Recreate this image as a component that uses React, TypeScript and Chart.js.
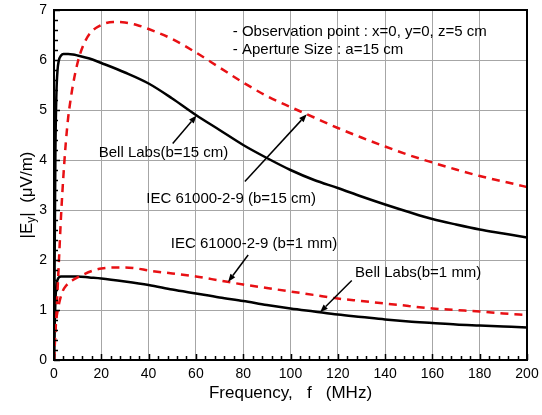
import { useEffect, useRef } from "react";
import { Chart, registerables } from "chart.js";

Chart.register(...registerables);

const FONT = '"Liberation Sans", Arial, Helvetica, sans-serif';

// Axis ticks
const xTickValues = [0, 20, 40, 60, 80, 100, 120, 140, 160, 180, 200];
const yTickValues = [0, 1, 2, 3, 4, 5, 6, 7];

// Bell Labs, b = 15 cm
const bell15Freq = [0, 0.3, 0.6, 1, 1.5, 2, 3, 4, 6, 8, 10, 15, 20, 30, 40, 50, 60, 70, 80, 90, 100, 110, 120, 130, 140, 150, 160, 170, 180, 190, 200];
const bell15Val = [0, 2.2, 4.2, 5.3, 5.8, 5.98, 6.09, 6.12, 6.12, 6.11, 6.09, 6.03, 5.94, 5.75, 5.53, 5.23, 4.9, 4.6, 4.3, 4.04, 3.8, 3.6, 3.44, 3.27, 3.11, 2.96, 2.82, 2.71, 2.61, 2.53, 2.45];

// IEC 61000-2-9, b = 15 cm
const iec15Freq = [0, 1, 2, 3, 4, 5, 6, 7, 8, 10, 12, 15, 20, 25, 30, 35, 40, 50, 60, 70, 80, 90, 100, 110, 120, 130, 140, 150, 160, 170, 180, 190, 200];
const iec15Val = [0, 0.9, 1.9, 2.9, 3.7, 4.35, 4.85, 5.2, 5.5, 5.95, 6.25, 6.52, 6.7, 6.76, 6.75, 6.7, 6.62, 6.42, 6.15, 5.85, 5.55, 5.28, 5.06, 4.85, 4.64, 4.45, 4.27, 4.1, 3.95, 3.81, 3.68, 3.57, 3.46];

// Bell Labs, b = 1 mm
const bell1Freq = [0, 0.3, 0.6, 1, 1.5, 2, 3, 5, 10, 15, 20, 30, 40, 50, 60, 70, 80, 90, 100, 110, 120, 130, 140, 150, 160, 170, 180, 190, 200];
const bell1Val = [0, 0.7, 1.2, 1.48, 1.6, 1.65, 1.67, 1.67, 1.67, 1.65, 1.63, 1.57, 1.5, 1.41, 1.33, 1.25, 1.18, 1.1, 1.03, 0.97, 0.91, 0.86, 0.81, 0.77, 0.74, 0.71, 0.69, 0.67, 0.65];

// IEC 61000-2-9, b = 1 mm
const iec1Freq = [0, 0.2, 0.5, 1, 1.6, 2.5, 3.7, 5, 8, 12, 16, 20, 25, 30, 35, 40, 50, 60, 70, 80, 90, 100, 110, 120, 130, 140, 150, 160, 170, 180, 190, 200];
const iec1Val = [0, 0.4, 0.62, 0.83, 1.0, 1.2, 1.38, 1.48, 1.6, 1.7, 1.78, 1.83, 1.85, 1.85, 1.83, 1.79, 1.73, 1.67, 1.59, 1.51, 1.44, 1.37, 1.3, 1.23, 1.18, 1.13, 1.08, 1.03, 1.0, 0.97, 0.93, 0.9];

const noteLines = ["- Observation point : x=0, y=0, z=5 cm", "- Aperture Size : a=15 cm"];

type Series = { freq: number[]; val: number[] };
const bell15: Series = { freq: bell15Freq, val: bell15Val };
const iec15: Series = { freq: iec15Freq, val: iec15Val };
const bell1: Series = { freq: bell1Freq, val: bell1Val };
const iec1: Series = { freq: iec1Freq, val: iec1Val };

function valueAt(s: Series, f: number): number {
  for (let i = 1; i < s.freq.length; i++) {
    if (f <= s.freq[i]) {
      const t = (f - s.freq[i - 1]) / (s.freq[i] - s.freq[i - 1]);
      return s.val[i - 1] + t * (s.val[i] - s.val[i - 1]);
    }
  }
  return s.val[s.val.length - 1];
}

// Callouts: label anchor (left, middle), arrow tail, arrow head frequency on a series
const callouts = [
  { label: "Bell Labs(b=15 cm)", tx: 18.9, ty: 4.14, ax: 50.2, ay: 4.33, hf: 60.3, series: bell15 },
  { label: "IEC 61000-2-9 (b=15 cm)", tx: 39.0, ty: 3.22, ax: 80.7, ay: 3.57, hf: 106.9, series: iec15 },
  { label: "IEC 61000-2-9 (b=1 mm)", tx: 49.4, ty: 2.32, ax: 82.1, ay: 2.1, hf: 73.6, series: iec1 },
  { label: "Bell Labs(b=1 mm)", tx: 127.3, ty: 1.74, ax: 125.9, ay: 1.59, hf: 112.5, series: bell1 },
];

const toPoints = (s: Series) => s.freq.map((f, i) => ({ x: f, y: s.val[i] }));

function drawText(ctx: CanvasRenderingContext2D, s: string, x: number, y: number, align: CanvasTextAlign, sx = 1) {
  ctx.save();
  ctx.translate(x, y);
  ctx.scale(sx, 1);
  ctx.textAlign = align;
  ctx.fillText(s, 0, 0);
  ctx.restore();
}

const decorPlugin = {
  id: "decor",
  afterDraw(chart: any) {
    const { ctx, chartArea: a, scales } = chart;
    const xs = scales.x;
    const ys = scales.y;
    ctx.save();

    // frame
    ctx.strokeStyle = "#000";
    ctx.lineWidth = 2;
    ctx.strokeRect(a.left, a.top, a.right - a.left, a.bottom - a.top);

    // inward ticks
    ctx.lineWidth = 1.5;
    ctx.beginPath();
    for (let f = 0; f <= 200; f += 4) {
      const px = Math.round(xs.getPixelForValue(f)) + 0.5;
      const len = f % 20 === 0 ? 6 : 4;
      ctx.moveTo(px, a.bottom);
      ctx.lineTo(px, a.bottom - len);
    }
    for (let k = 0; k <= 35; k++) {
      const v = k / 5;
      const py = Math.round(ys.getPixelForValue(v)) + 0.5;
      const len = k % 5 === 0 ? 6 : 4;
      ctx.moveTo(a.left, py);
      ctx.lineTo(a.left + len, py);
    }
    ctx.stroke();

    // tick labels
    ctx.fillStyle = "#000";
    ctx.font = `14px ${FONT}`;
    ctx.textBaseline = "middle";
    xTickValues.forEach((v) => drawText(ctx, String(v), xs.getPixelForValue(v), a.bottom + 14, "center"));
    yTickValues.forEach((v) => drawText(ctx, String(v), a.left - 7, ys.getPixelForValue(v), "right"));

    // x title
    ctx.font = `17px ${FONT}`;
    drawText(ctx, "Frequency,   f   (MHz)", (a.left + a.right) / 2, a.bottom + 33, "center");

    // y title with subscript
    ctx.save();
    ctx.translate(27, 195);
    ctx.rotate(-Math.PI / 2);
    ctx.textBaseline = "middle";
    const p1 = "|E";
    const p2 = "y";
    const p3 = "|  (\u03bcV/m)";
    ctx.font = `17px ${FONT}`;
    const w1 = ctx.measureText(p1).width;
    const w3 = ctx.measureText(p3).width;
    ctx.font = `12px ${FONT}`;
    const w2 = ctx.measureText(p2).width;
    const total = w1 + w2 + w3;
    let cx = -total / 2;
    ctx.textAlign = "left";
    ctx.font = `17px ${FONT}`;
    ctx.fillText(p1, cx, 0);
    cx += w1;
    ctx.font = `12px ${FONT}`;
    ctx.fillText(p2, cx, 5);
    cx += w2;
    ctx.font = `17px ${FONT}`;
    ctx.fillText(p3, cx, 0);
    ctx.restore();

    // notes
    ctx.font = `15px ${FONT}`;
    noteLines.forEach((line, i) => {
      drawText(ctx, line, xs.getPixelForValue(75.6), ys.getPixelForValue(6.57 - i * 0.36), "left");
    });

    // callouts
    ctx.font = `15px ${FONT}`;
    ctx.strokeStyle = "#000";
    ctx.lineWidth = 1.5;
    callouts.forEach((c) => {
      drawText(ctx, c.label, xs.getPixelForValue(c.tx), ys.getPixelForValue(c.ty), "left");
      const x0 = xs.getPixelForValue(c.ax);
      const y0 = ys.getPixelForValue(c.ay);
      const x1 = xs.getPixelForValue(c.hf);
      const y1 = ys.getPixelForValue(valueAt(c.series, c.hf));
      const ang = Math.atan2(y1 - y0, x1 - x0);
      const hl = 8;
      const hw = 3;
      const bx = x1 - hl * Math.cos(ang);
      const by = y1 - hl * Math.sin(ang);
      ctx.beginPath();
      ctx.moveTo(x0, y0);
      ctx.lineTo(bx, by);
      ctx.stroke();
      ctx.beginPath();
      ctx.moveTo(x1, y1);
      ctx.lineTo(bx + hw * Math.sin(ang), by - hw * Math.cos(ang));
      ctx.lineTo(bx - hw * Math.sin(ang), by + hw * Math.cos(ang));
      ctx.closePath();
      ctx.fill();
    });

    ctx.restore();
  },
};

export default function App() {
  const ref = useRef<HTMLCanvasElement>(null);

  useEffect(() => {
    const red = "rgb(232, 16, 20)";
    const chart = new Chart(ref.current!, {
      type: "line",
      data: {
        datasets: [
          { label: "IEC 61000-2-9 (b=15 cm)", data: toPoints(iec15), borderColor: red, borderWidth: 2.5, borderDash: [8, 6] },
          { label: "IEC 61000-2-9 (b=1 mm)", data: toPoints(iec1), borderColor: red, borderWidth: 2.5, borderDash: [8, 6] },
          { label: "Bell Labs(b=15 cm)", data: toPoints(bell15), borderColor: "#000", borderWidth: 2.5 },
          { label: "Bell Labs(b=1 mm)", data: toPoints(bell1), borderColor: "#000", borderWidth: 2.5 },
        ].map((d) => ({ ...d, pointRadius: 0, fill: false, cubicInterpolationMode: "monotone" as const })),
      },
      options: {
        responsive: false,
        animation: false,
        events: [],
        layout: { padding: { left: 54, top: 10, right: 15, bottom: 55 } },
        plugins: { legend: { display: false }, tooltip: { enabled: false } },
        scales: {
          x: {
            type: "linear",
            min: 0,
            max: 200,
            ticks: { display: false, stepSize: 20 },
            grid: { color: "#a6a6a6", lineWidth: 1, drawTicks: false },
            border: { display: false },
            afterFit: (s: any) => { s.height = 0; },
          },
          y: {
            type: "linear",
            min: 0,
            max: 7,
            ticks: { display: false, stepSize: 1 },
            grid: { color: "#a6a6a6", lineWidth: 1, drawTicks: false },
            border: { display: false },
            afterFit: (s: any) => { s.width = 0; },
          },
        },
      },
      plugins: [decorPlugin],
    });
    return () => chart.destroy();
  }, []);

  return (
    <div style={{ position: "fixed", left: 0, top: 0, width: 542, height: 415, background: "#fff" }}>
      <canvas ref={ref} width={542} height={415} style={{ display: "block" }} />
    </div>
  );
}
